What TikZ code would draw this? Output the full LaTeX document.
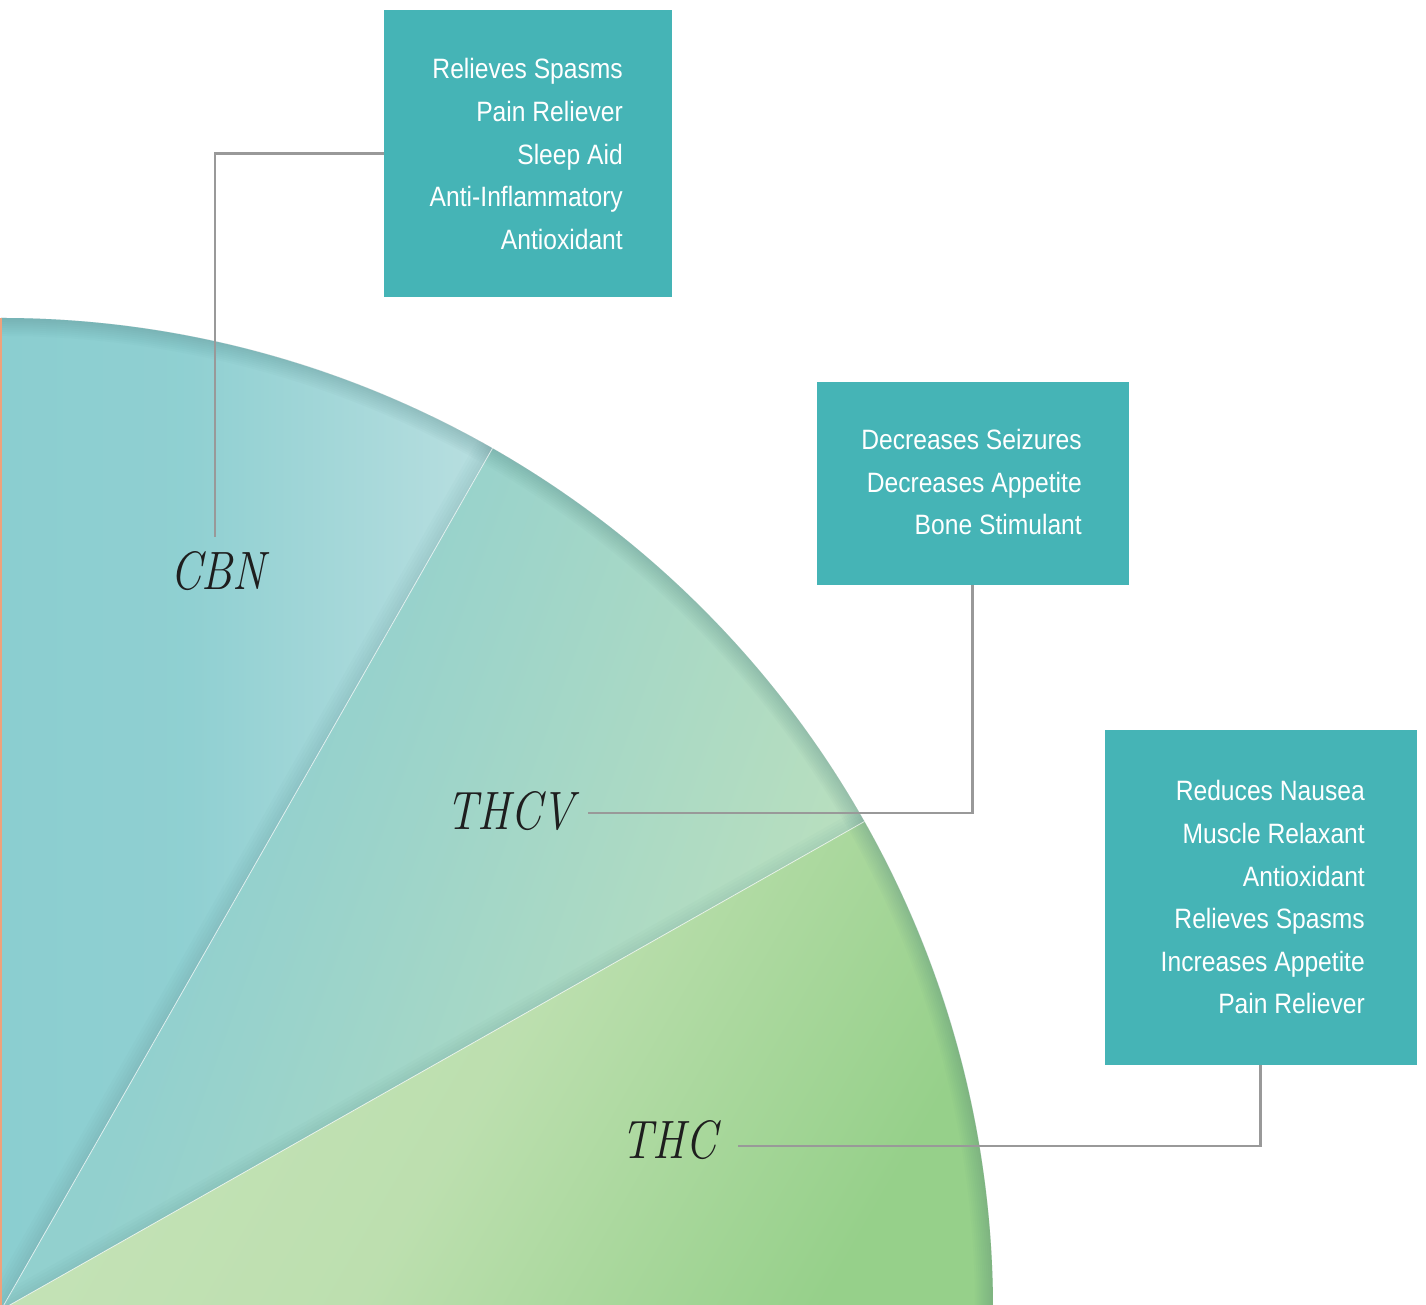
\documentclass[tikz,border=0pt]{standalone}
\usepackage{fontspec}
\newfontfamily\boxfont[FakeStretch=0.88]{Liberation Sans}
\usetikzlibrary{calc}
\definecolor{boxc}{HTML}{45B4B6}
\definecolor{leadc}{HTML}{999999}
\definecolor{cbnA}{HTML}{8BCED0}
\definecolor{cbnB}{HTML}{B9DFE0}
\definecolor{thcvA}{HTML}{90CFCF}
\definecolor{thcvB}{HTML}{BCE0BD}
\definecolor{thcA}{HTML}{C6E3B8}
\definecolor{thcB}{HTML}{96D08A}
\definecolor{rimc}{HTML}{4F7F80}
\definecolor{labelc}{HTML}{1E1E1E}
\definecolor{orangec}{HTML}{EFA27C}
\pgfdeclarehorizontalshading{cbnsh}{100bp}{color(0bp)=(cbnA); color(25bp)=(cbnA); color(44bp)=(cbnA!90!cbnB); color(75bp)=(cbnB); color(100bp)=(cbnB)}
\pgfdeclarehorizontalshading{thcvsh}{100bp}{color(0bp)=(thcvA); color(25bp)=(thcvA); color(38bp)=(thcvA!95!thcvB); color(75bp)=(thcvB); color(100bp)=(thcvB)}
\pgfdeclarehorizontalshading{thcsh}{100bp}{color(0bp)=(thcA); color(25bp)=(thcA); color(50bp)=(thcA!80!thcB); color(75bp)=(thcB); color(100bp)=(thcB)}
\tikzset{
  boxn/.style={fill=boxc, draw=none, inner sep=0pt},
  item/.style={font=\boxfont\fontsize{28}{30}\selectfont, text=white, inner sep=0pt, anchor=base east},
  lbl/.style={font=\itshape\fontsize{54}{60}\selectfont, text=labelc, inner sep=0pt, anchor=base west, xscale=0.83},
  lead/.style={draw=leadc, line width=2.8pt},
}
\begin{document}
\begin{tikzpicture}[x=1pt, y=1pt]
\useasboundingbox (0,0) rectangle (1426,1305);
\fill[white] (0,0) rectangle (1426,1305);
\coordinate (O) at (1,-5);
\def\R{992}
\def\aA{60.3}
\def\aB{29.5}
\begin{scope}
\clip (0,0) rectangle (1426,1305);
% sectors
\shade[shading=cbnsh] (O) -- ++(90:\R) arc[start angle=90, end angle=\aA, radius=\R] -- cycle;
\shade[shading=thcvsh, shading angle=-20] (O) -- ++(\aA:\R) arc[start angle=\aA, end angle=\aB, radius=\R] -- cycle;
\shade[shading=thcsh, shading angle=-30] (O) -- ++(\aB:\R) arc[start angle=\aB, end angle=0, radius=\R] -- cycle;
% shadows along dividers (upper side)
\begin{scope}
\clip (O) -- ++(90:\R) arc[start angle=90, end angle=\aA, radius=\R] -- cycle;
\foreach \w in {4,10,16,22,28,34} \draw[rimc, line width=\w pt, opacity=0.03] (O) -- ++(\aA:\R);
\end{scope}
\begin{scope}
\clip (O) -- ++(\aA:\R) arc[start angle=\aA, end angle=\aB, radius=\R] -- cycle;
\foreach \w in {4,10,16,22,28} \draw[rimc, line width=\w pt, opacity=0.03] (O) -- ++(\aB:\R);
\end{scope}
% rim shading
\begin{scope}
\clip (O) -- ++(90:\R) arc[start angle=90, end angle=0, radius=\R] -- cycle;
\foreach \w in {4,8,12,16,20,24,28,32,36} \draw[rimc, line width=\w pt, opacity=0.035] (O) circle[radius=\R];
\end{scope}
% light divider lines
\draw[white, opacity=0.7, line width=0.8pt] (O) -- ++(\aA:\R);
\draw[white, opacity=0.7, line width=0.8pt] (O) -- ++(\aB:\R);
\draw[orangec, line width=1.5pt] (0.75,0) -- (0.75,987);
\end{scope}

% boxes
\node[boxn, minimum width=288pt, minimum height=287pt] (b1) at (528,1151.5) {};
\node[boxn, minimum width=312pt, minimum height=203pt] (b2) at (972.5,821.5) {};
\node[boxn, minimum width=312pt, minimum height=335pt] (b3) at (1260.5,407.5) {};

\foreach [count=\i] \t in {Relieves Spasms, Pain Reliever, Sleep Aid, Anti-Inflammatory, Antioxidant}
  \node[item] (a\i) at (623, {1226-42.6*(\i-1)}) {\t};
\foreach [count=\i] \t in {Decreases Seizures, Decreases Appetite, Bone Stimulant}
  \node[item] (c\i) at (1082, {855-42.5*(\i-1)}) {\t};
\foreach [count=\i] \t in {Reduces Nausea, Muscle Relaxant, Antioxidant, Relieves Spasms, Increases Appetite, Pain Reliever}
  \node[item] (d\i) at (1365, {504-42.6*(\i-1)}) {\t};

% labels
\node[lbl] (cbn) at (170,715) {CBN};
\node[lbl] (thcv) at (446,475) {THCV};
\node[lbl] (thc) at (621,146) {THC};

% leaders
\coordinate (e1) at (215,768);
\coordinate (e2) at (588,492);
\coordinate (e3) at (738,159);
\draw[lead] (b1.west) -| (e1);
\draw[lead] (e2) -| (b2.south);
\draw[lead] (e3) -| (b3.south);
\end{tikzpicture}
\end{document}
